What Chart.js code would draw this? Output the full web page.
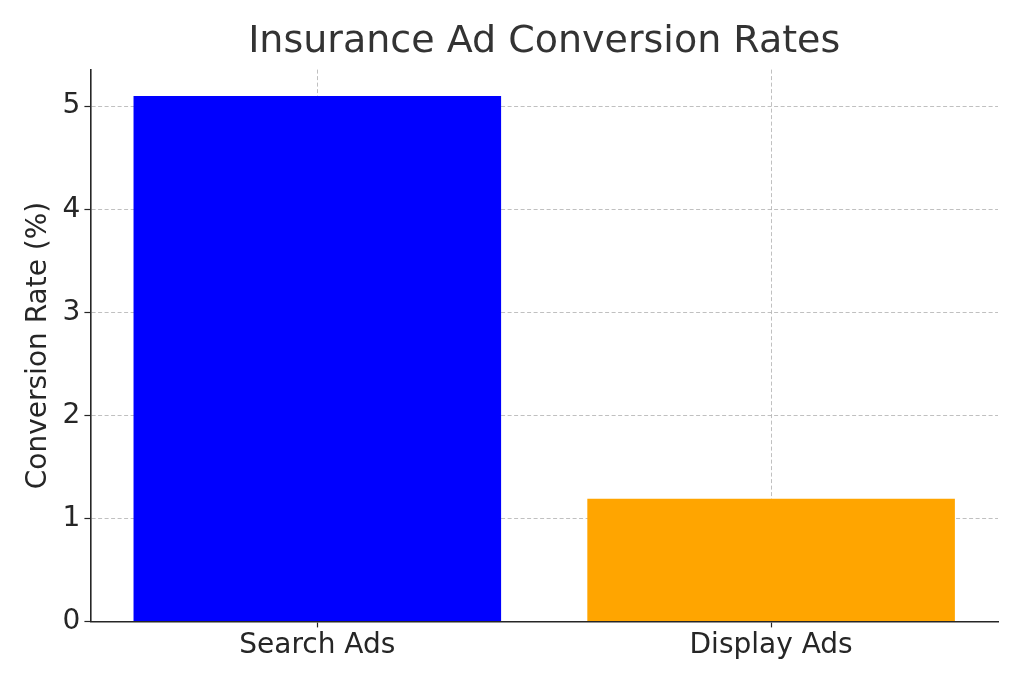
<!DOCTYPE html>
<html>
<head>
<meta charset="utf-8">
<script src="https://cdn.jsdelivr.net/npm/chart.js@4"></script>
<style>
  html, body { margin: 0; padding: 0; background: #fff; }
  #wrap { width: 1024px; height: 683px; }
</style>
</head>
<body>
<div id="wrap"><canvas id="myChart" width="1024" height="683"></canvas></div>
<script>
// data
const categories = ["Search Ads", "Display Ads"];
const conversionRates = [5.1, 1.19];
const barColors = ["#0000ff", "#ffa500"];
const yTicks = [0, 1, 2, 3, 4, 5];

const gridColor = "rgba(176,176,176,0.8)";
const ink = "#262626";

new Chart(document.getElementById("myChart").getContext("2d"), {
  type: "bar",
  data: {
    labels: categories,
    datasets: [
      {
        data: conversionRates,
        backgroundColor: barColors,
        borderWidth: 0,
        barPercentage: 0.81,
        categoryPercentage: 1.0,
      },
    ],
  },
  options: {
    responsive: false,
    animation: false,
    layout: { padding: { left: 22, right: 26, top: 4, bottom: 18 } },
    plugins: {
      legend: { display: false },
      tooltip: { enabled: false },
      title: {
        display: true,
        fullSize: false,
        text: "Insurance Ad Conversion Rates",
        color: "#333",
        font: { family: "DejaVu Sans", size: 38, weight: "normal" },
        padding: { top: 15, bottom: 5 },
      },
    },
    scales: {
      x: {
        z: 1,
        offset: true,
        grid: {
          offset: false,
          color: gridColor,
          lineWidth: 1,
          drawTicks: true,
          tickLength: 6,
          tickColor: ink,
          tickWidth: 1.2,
          tickBorderDash: [],
        },
        border: { display: true, color: ink, width: 1.6, dash: [4, 2.5] },
        ticks: {
          color: ink,
          padding: 2,
          font: { family: "DejaVu Sans", size: 28 },
        },
      },
      y: {
        z: 1,
        min: 0,
        max: 5.355,
        afterBuildTicks: (axis) => {
          axis.ticks = yTicks.map((v) => ({ value: v }));
        },
        grid: {
          color: gridColor,
          lineWidth: 1,
          drawTicks: true,
          tickLength: 6,
          tickColor: ink,
          tickWidth: 1.2,
          tickBorderDash: [],
        },
        border: { display: true, color: ink, width: 1.6, dash: [4, 2.5] },
        ticks: {
          color: ink,
          padding: 4,
          font: { family: "DejaVu Sans", size: 28 },
        },
        title: {
          display: true,
          text: "Conversion Rate (%)",
          color: ink,
          font: { family: "DejaVu Sans", size: 28 },
          padding: { top: 0, bottom: 3 },
        },
      },
    },
  },
});
</script>
</body>
</html>
